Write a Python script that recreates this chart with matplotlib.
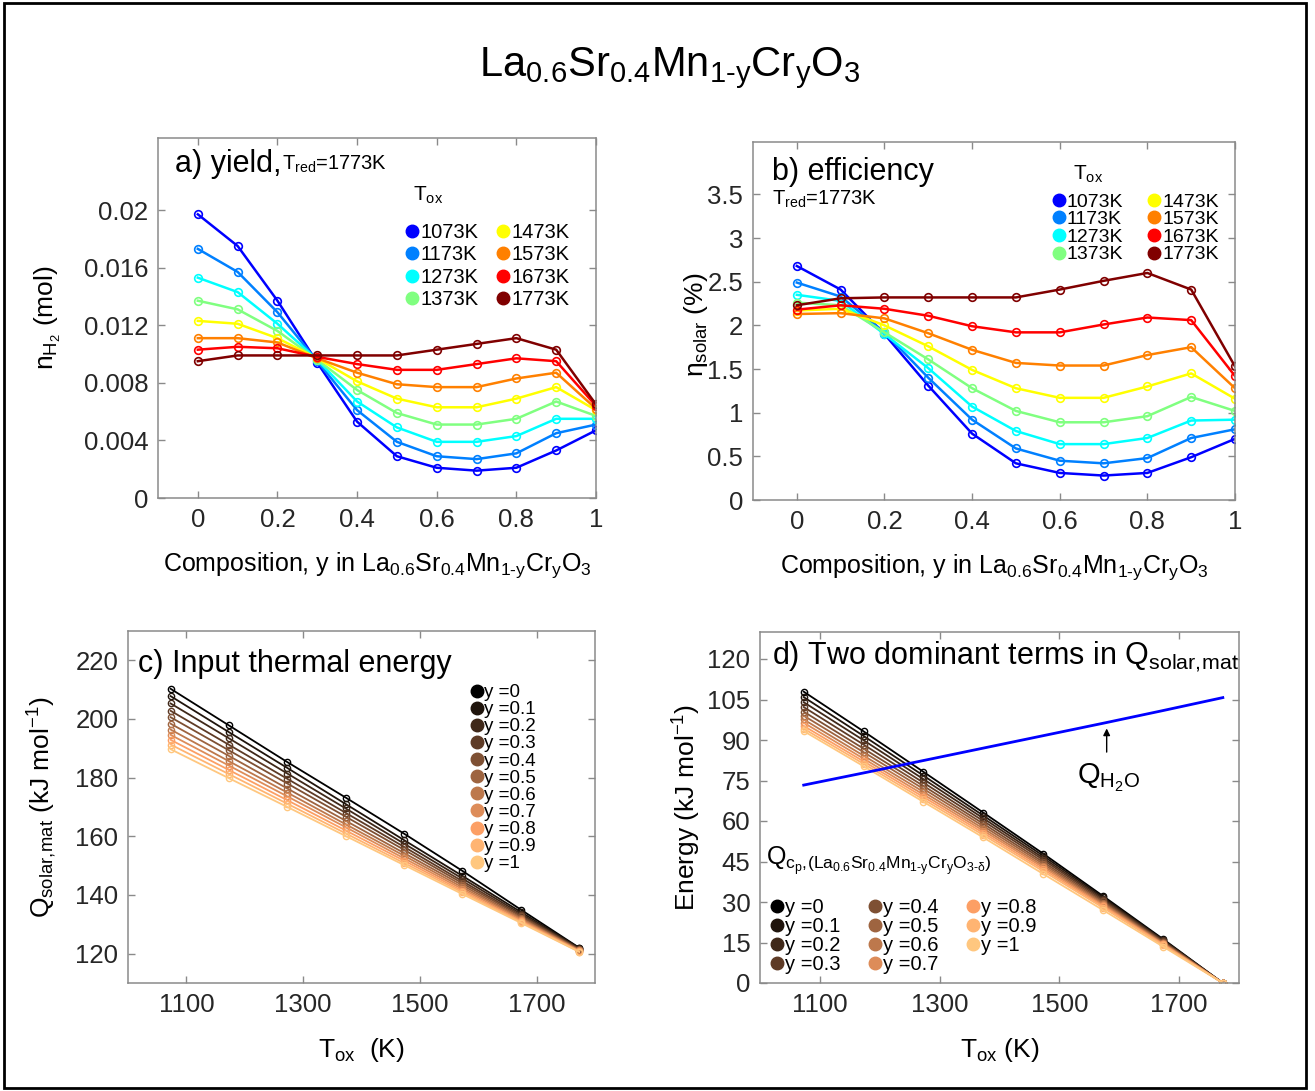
import numpy as np
import matplotlib.pyplot as plt
from matplotlib.lines import Line2D
from matplotlib.patches import Rectangle

plt.rcParams['font.family'] = 'Liberation Sans'
plt.rcParams['mathtext.fontset'] = 'custom'
plt.rcParams['mathtext.rm'] = 'Liberation Sans'
plt.rcParams['mathtext.it'] = 'Liberation Sans:italic'
plt.rcParams['mathtext.bf'] = 'Liberation Sans:bold'
plt.rcParams['mathtext.sf'] = 'Liberation Sans'

W, H = 1315, 1091

# Cr content and oxidation temperatures
y_comp = [0, 0.1, 0.2, 0.3, 0.4, 0.5, 0.6, 0.7, 0.8, 0.9, 1.0]
T_ox = [1073, 1173, 1273, 1373, 1473, 1573, 1673, 1773]
T_labels = ['1073K', '1173K', '1273K', '1373K', '1473K', '1573K', '1673K', '1773K']
y_labels = ['y =0', 'y =0.1', 'y =0.2', 'y =0.3', 'y =0.4', 'y =0.5',
            'y =0.6', 'y =0.7', 'y =0.8', 'y =0.9', 'y =1']

# MATLAB jet(8)
jet8 = [(0, 0, 1), (0, 0.5, 1), (0, 1, 1), (0.5, 1, 0.5),
        (1, 1, 0), (1, 0.5, 0), (1, 0, 0), (0.5, 0, 0)]
copper11 = plt.cm.copper(np.linspace(0, 1, 11))

# a) hydrogen yield n_H2 (mol), one row per T_ox
n_h2 = [
    [0.0197, 0.0175, 0.0137, 0.0094, 0.0053, 0.0029, 0.0021, 0.0019, 0.0021, 0.0033, 0.0047],
    [0.0173, 0.0157, 0.0129, 0.0095, 0.0061, 0.0039, 0.0029, 0.0027, 0.0031, 0.0045, 0.0051],
    [0.0153, 0.0143, 0.0121, 0.0096, 0.0067, 0.0049, 0.0039, 0.0039, 0.0043, 0.0055, 0.0055],
    [0.0137, 0.0131, 0.0116, 0.0096, 0.0075, 0.0059, 0.0051, 0.0051, 0.0055, 0.0067, 0.0057],
    [0.0123, 0.0121, 0.0111, 0.0097, 0.0081, 0.0069, 0.0063, 0.0063, 0.0069, 0.0077, 0.0061],
    [0.0111, 0.0111, 0.0108, 0.0097, 0.0087, 0.0079, 0.0077, 0.0077, 0.0083, 0.0087, 0.0062],
    [0.0103, 0.0105, 0.0104, 0.0098, 0.0093, 0.0089, 0.0089, 0.0093, 0.0097, 0.0095, 0.0064],
    [0.0095, 0.0099, 0.0099, 0.0099, 0.0099, 0.0099, 0.0103, 0.0107, 0.0111, 0.0103, 0.0065],
]

# b) solar-to-fuel efficiency (%), one row per T_ox
eta_solar = [
    [2.68, 2.41, 1.90, 1.31, 0.76, 0.42, 0.31, 0.28, 0.31, 0.49, 0.70],
    [2.49, 2.33, 1.92, 1.40, 0.92, 0.59, 0.45, 0.42, 0.48, 0.71, 0.81],
    [2.35, 2.28, 1.90, 1.51, 1.07, 0.79, 0.64, 0.64, 0.71, 0.91, 0.92],
    [2.26, 2.23, 1.92, 1.61, 1.28, 1.02, 0.89, 0.89, 0.96, 1.18, 1.02],
    [2.17, 2.19, 2.00, 1.76, 1.49, 1.28, 1.17, 1.17, 1.30, 1.45, 1.16],
    [2.13, 2.14, 2.08, 1.91, 1.72, 1.57, 1.54, 1.54, 1.66, 1.75, 1.28],
    [2.18, 2.23, 2.19, 2.11, 1.99, 1.92, 1.92, 2.01, 2.09, 2.06, 1.42],
    [2.23, 2.31, 2.32, 2.32, 2.32, 2.32, 2.41, 2.51, 2.60, 2.41, 1.53],
]

# c) input thermal energy Q_solar,mat (kJ/mol), one row per y
q_solar = [
    [210.3, 197.8, 185.3, 173.2, 160.9, 148.2, 135.0, 122.0],
    [207.8, 195.5, 183.3, 171.0, 158.7, 146.5, 134.2, 121.9],
    [205.3, 193.4, 181.4, 169.5, 157.5, 145.6, 133.6, 121.7],
    [202.8, 191.2, 179.6, 168.0, 156.4, 144.7, 133.1, 121.5],
    [200.6, 189.3, 178.0, 166.7, 155.4, 144.0, 132.7, 121.4],
    [198.4, 187.4, 176.3, 165.3, 154.3, 143.3, 132.2, 121.2],
    [196.4, 185.6, 174.9, 164.1, 153.4, 142.6, 131.9, 121.1],
    [194.6, 184.1, 173.6, 163.1, 152.5, 142.0, 131.5, 121.0],
    [192.9, 182.6, 172.3, 162.0, 151.7, 141.4, 131.1, 120.8],
    [191.3, 181.2, 171.1, 161.0, 150.9, 140.9, 130.8, 120.7],
    [189.7, 179.8, 170.0, 160.1, 150.2, 140.3, 130.5, 120.6],
]

# d) sensible heat of the oxide (kJ/mol), one row per y
q_cp = [
    [107.9, 93.2, 78.2, 63.1, 47.9, 32.2, 16.3, 0.0],
    [105.9, 91.5, 76.8, 62.0, 47.1, 31.7, 16.0, 0.0],
    [104.0, 89.9, 75.5, 61.0, 46.3, 31.2, 15.8, 0.0],
    [102.2, 88.3, 74.2, 60.0, 45.6, 30.7, 15.5, 0.0],
    [100.5, 86.8, 73.0, 59.0, 44.8, 30.2, 15.2, 0.0],
    [99.0, 85.5, 71.9, 58.1, 44.1, 29.7, 15.0, 0.0],
    [97.6, 84.2, 70.8, 57.2, 43.4, 29.3, 14.7, 0.0],
    [96.4, 83.1, 69.8, 56.4, 42.8, 28.8, 14.5, 0.0],
    [95.2, 82.1, 68.9, 55.6, 42.1, 28.4, 14.3, 0.0],
    [94.2, 81.2, 68.0, 54.8, 41.4, 27.9, 14.0, 0.0],
    [93.3, 80.3, 67.1, 53.9, 40.4, 27.0, 13.5, 0.0],
]
# heat for steam generation
q_h2o = [73.3, 77.8, 82.4, 87.0, 91.6, 96.2, 100.9, 105.7]

HY = '\u2010'  # plain hyphen, so mathtext does not turn it into a spaced minus
formula = (r'La$_{\mathrm{0.6}}$Sr$_{\mathrm{0.4}}$Mn$_{\mathrm{1' + HY +
           r'y}}$Cr$_{\mathrm{y}}$O$_{\mathrm{3}}$')
q_solar_mat = r'Q$_{\mathrm{solar,\!mat}}$'


def fx(px):
    return px / W


def fy(py):
    return 1 - py / H


def ax_at(left, top, right, bottom):
    return fig.add_axes([fx(left), fy(bottom), (right - left) / W, (bottom - top) / H])


def style(ax):
    for s in ax.spines.values():
        s.set_color('#8a8a8a')
        s.set_linewidth(1.1)
    ax.tick_params(direction='in', top=True, right=True, length=5, width=1,
                   color='#8a8a8a', labelsize=18.5, labelcolor='#262626', pad=7)


def dot_legend(ax, colors, labels, anchor, size, spacing, ncol=1, colsp=1.0):
    handles = [Line2D([], [], ls='', marker='o', ms=9, color=c) for c in colors]
    return ax.legend(handles, labels, ncol=ncol, loc='upper left', frameon=False,
                     bbox_to_anchor=anchor, bbox_transform=fig.transFigure,
                     fontsize=size, handlelength=0.5, handletextpad=0.15,
                     columnspacing=colsp, labelspacing=spacing, borderpad=0,
                     borderaxespad=0)


fig = plt.figure(figsize=(W / 100, H / 100), dpi=100)
fig.add_artist(Rectangle((fx(4), fy(1088)), fx(1306) - fx(4), fy(3) - fy(1088),
                         transform=fig.transFigure, fill=False, ec='k', lw=2))

fig.text(fx(670), fy(68), formula, fontsize=30, ha='center', va='center')

mk = dict(marker='o', ms=5.5, mfc='none', mew=1.2, lw=1.8)
mk_thin = dict(marker='o', ms=4.5, mfc='none', mew=1, lw=1.3)
comp_label = 'Composition, y in ' + formula

# a) yield
ax = ax_at(158, 138, 596, 498)
for i, row in enumerate(n_h2):
    ax.plot(y_comp, row, color=jet8[i], **mk)
ax.set_xlim(-0.1, 1)
ax.set_ylim(0, 0.025)
ax.set_xticks([0, 0.2, 0.4, 0.6, 0.8, 1])
ax.set_xticklabels(['0', '0.2', '0.4', '0.6', '0.8', '1'])
ax.set_yticks([0, 0.004, 0.008, 0.012, 0.016, 0.02])
ax.set_yticklabels(['0', '0.004', '0.008', '0.012', '0.016', '0.02'])
style(ax)
ax.set_ylabel(r'n$_{\mathrm{H}_{\mathrm{2}}}$ (mol)', fontsize=19, va='center')
ax.yaxis.set_label_coords((48 - 158) / 438, 0.5)
ax.set_xlabel(comp_label, fontsize=18, va='center')
ax.xaxis.set_label_coords(0.5, (498 - 565) / 360)
fig.text(fx(175), fy(172), 'a) yield,', fontsize=22, va='baseline')
fig.text(fx(282), fy(170), r'T$_{\mathrm{red}}$=1773K', fontsize=14.5, va='baseline')
fig.text(fx(413), fy(201), r'T$_{\mathrm{ox}}$', fontsize=15, va='baseline')
dot_legend(ax, jet8, T_labels, (fx(407), fy(223)), 14.5, 0.17, ncol=2, colsp=1.0)

# b) efficiency
ax = ax_at(753, 142, 1235, 500)
for i, row in enumerate(eta_solar):
    ax.plot(y_comp, row, color=jet8[i], **mk)
ax.set_xlim(-0.1, 1)
ax.set_ylim(0, 4.1)
ax.set_xticks([0, 0.2, 0.4, 0.6, 0.8, 1])
ax.set_xticklabels(['0', '0.2', '0.4', '0.6', '0.8', '1'])
ax.set_yticks([0, 0.5, 1, 1.5, 2, 2.5, 3, 3.5])
ax.set_yticklabels(['0', '0.5', '1', '1.5', '2', '2.5', '3', '3.5'])
style(ax)
ax.set_ylabel(r'η$_{\mathrm{solar}}$ (%)', fontsize=19, va='center')
ax.yaxis.set_label_coords((696 - 753) / 482, 0.49)
ax.set_xlabel(comp_label, fontsize=18, va='center')
ax.xaxis.set_label_coords(0.5, (500 - 567) / 358)
fig.text(fx(772), fy(180), 'b) efficiency', fontsize=22, va='baseline')
fig.text(fx(772), fy(205), r'T$_{\mathrm{red}}$=1773K', fontsize=14.5, va='baseline')
fig.text(fx(1073), fy(180), r'T$_{\mathrm{ox}}$', fontsize=15, va='baseline')
dot_legend(ax, jet8, T_labels, (fx(1054), fy(193)), 14, 0.0, ncol=2, colsp=1.35)

# c) input thermal energy
ax = ax_at(128, 631, 595, 983)
for i, row in enumerate(q_solar):
    ax.plot(T_ox, row, color=copper11[i], **mk_thin)
ax.set_xlim(1000, 1800)
ax.set_ylim(110, 230)
ax.set_xticks([1100, 1300, 1500, 1700])
ax.set_yticks([120, 140, 160, 180, 200, 220])
style(ax)
ax.set_ylabel(q_solar_mat + r' (kJ mol$^{\mathrm{-1}}$)', fontsize=19, va='center')
ax.yaxis.set_label_coords((42 - 128) / 467, 0.5)
ax.set_xlabel(r'T$_{\mathrm{ox}}$  (K)', fontsize=19, va='center')
ax.xaxis.set_label_coords(0.5, (983 - 1050) / 352)
fig.text(fx(138), fy(672), 'c) Input thermal energy', fontsize=22, va='baseline')
dot_legend(ax, copper11, y_labels, (fx(472), fy(684)), 13.5, 0.0)

# d) two dominant terms
ax = ax_at(760, 632, 1239, 983)
for i, row in enumerate(q_cp):
    ax.plot(T_ox, row, color=copper11[i], **mk_thin)
ax.plot(T_ox, q_h2o, color='#0000ff', lw=2)
ax.annotate('', xy=(1579, 95.3), xytext=(1579, 84.5),
            arrowprops=dict(arrowstyle='-|>', color='k', lw=1, mutation_scale=10))
ax.text(1583, 76, r'Q$_{\mathrm{H_2O}}$', fontsize=21, ha='center', va='center')
ax.set_xlim(1000, 1800)
ax.set_ylim(0, 130)
ax.set_xticks([1100, 1300, 1500, 1700])
ax.set_yticks(np.arange(0, 121, 15))
style(ax)
ax.set_ylabel(r'Energy (kJ mol$^{\mathrm{-1}}$)', fontsize=19, va='center')
ax.yaxis.set_label_coords((687 - 760) / 479, 0.5)
ax.set_xlabel(r'T$_{\mathrm{ox}}$ (K)', fontsize=19, va='center')
ax.xaxis.set_label_coords(0.5, (983 - 1050) / 351)
fig.text(fx(772), fy(664), 'd) Two dominant terms in ' + q_solar_mat, fontsize=22, va='baseline')
fig.text(fx(766), fy(865),
         r'Q$_{\mathrm{c_p},\!\mathrm{(La_{0.6}Sr_{0.4}Mn_{1' + HY +
         r'y}Cr_yO_{3' + HY + r'\delta})}}$',
         fontsize=18, va='baseline')
dot_legend(ax, copper11, y_labels, (fx(772), fy(898)), 14.5, 0.0, ncol=3, colsp=1.45)

fig.savefig('out.png', dpi=100)
